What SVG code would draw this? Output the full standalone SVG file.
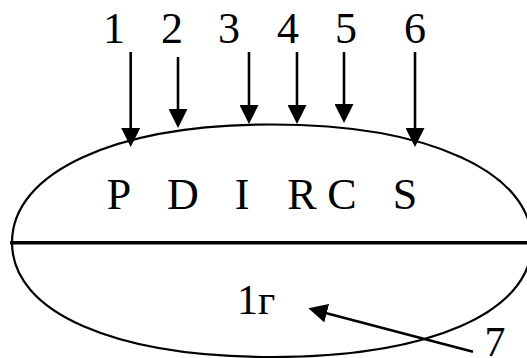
<svg xmlns="http://www.w3.org/2000/svg" width="527" height="358" viewBox="0 0 527 358">
  <style>
    text { font-family: 'Liberation Serif', 'DejaVu Serif', 'Times New Roman', serif; fill: #000; text-anchor: middle; }
    .big { font-size: 44px; }
    .mid { font-size: 42px; }
    .shaft { stroke: #000; stroke-width: 2.6; fill: none; }
    .outline { stroke: #000; stroke-width: 2.2; fill: #fff; }
  </style>
  <defs>
    <marker id="ah" viewBox="0 0 19 19" refX="9" refY="9.5" markerWidth="19" markerHeight="19" markerUnits="userSpaceOnUse" orient="auto">
      <path d="M0,0 L19,9.5 L0,19 Z" fill="#000"/>
    </marker>
  </defs>
  <rect width="527" height="358" fill="#fff"/>

  <g id="ellipse">
    <path class="outline" d="M12,242.5 C12,171.7 116,124.5 272,124.5 C428,124.5 532,171.7 532,242.5 C532,313.2 428,357 272,357 C116,357 12,313.2 12,242.5 Z"/>
    <line x1="10" y1="242.7" x2="527" y2="242.7" stroke="#000" stroke-width="3.6"/>
    <g id="upper-labels">
      <text class="big" x="119" y="209" font-family="Liberation Serif, serif">P</text>
      <text class="big" x="183" y="209" font-family="Liberation Serif, serif">D</text>
      <text class="big" x="242" y="209" font-family="Liberation Serif, serif">I</text>
      <text class="big" x="302" y="209" font-family="Liberation Serif, serif">R</text>
      <text class="big" x="342" y="209" font-family="Liberation Serif, serif">C</text>
      <text class="big" x="405" y="209" font-family="Liberation Serif, serif">S</text>
    </g>
    <g id="lower-label">
      <text class="mid" x="256" y="314" font-family="Liberation Serif, serif">1г</text>
    </g>
  </g>

  <g id="number-labels">
    <text class="big" x="114" y="43" font-family="Liberation Serif, serif">1</text>
    <text class="big" x="172" y="43" font-family="Liberation Serif, serif">2</text>
    <text class="big" x="229" y="43" font-family="Liberation Serif, serif">3</text>
    <text class="big" x="288" y="43" font-family="Liberation Serif, serif">4</text>
    <text class="big" x="346" y="43" font-family="Liberation Serif, serif">5</text>
    <text class="big" x="415" y="43" font-family="Liberation Serif, serif">6</text>
    <text class="mid" x="495" y="356" font-family="Liberation Serif, serif">7</text>
  </g>

  <g id="connectors">
    <line class="shaft" x1="130.7" y1="52" x2="130.7" y2="137" marker-end="url(#ah)"/>
    <line class="shaft" x1="178" y1="57" x2="178" y2="118" marker-end="url(#ah)"/>
    <line class="shaft" x1="249" y1="52" x2="249" y2="114" marker-end="url(#ah)"/>
    <line class="shaft" x1="297" y1="52" x2="297" y2="114" marker-end="url(#ah)"/>
    <line class="shaft" x1="344" y1="52" x2="344" y2="113" marker-end="url(#ah)"/>
    <line class="shaft" x1="415" y1="52" x2="415" y2="137" marker-end="url(#ah)"/>
    <line class="shaft" x1="473" y1="351.7" x2="318" y2="310.9" marker-end="url(#ah)"/>
  </g>
</svg>
